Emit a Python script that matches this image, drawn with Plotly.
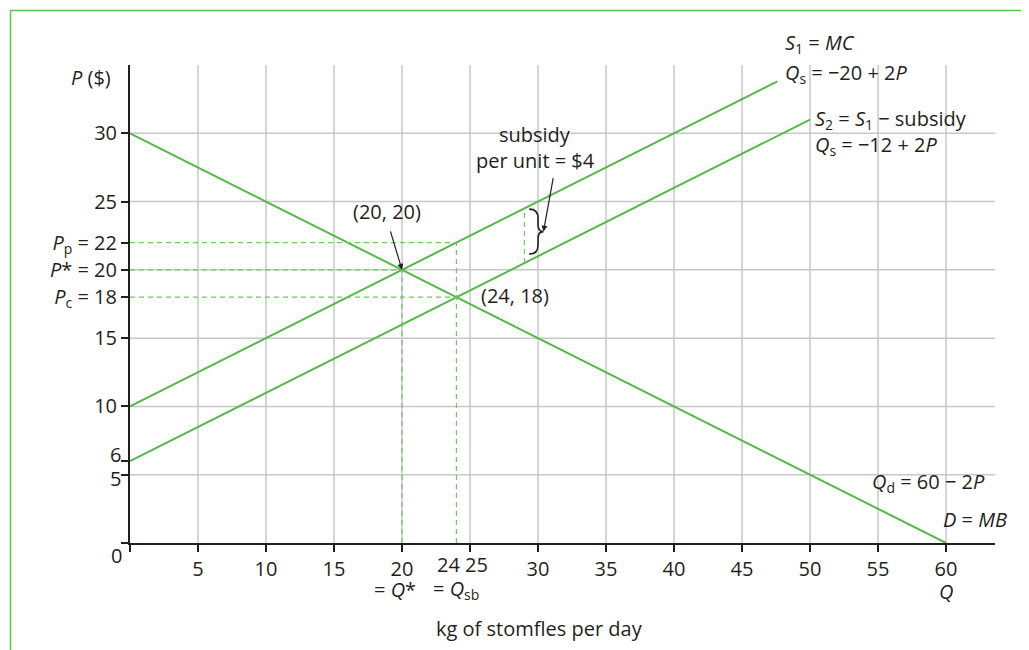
import plotly.graph_objects as go

# ---- data ----
q_demand = [0, 60]
p_demand = [30, 0]
q_s1 = [0, 47.6]
p_s1 = [10, 33.8]
q_s2 = [0, 50]
p_s2 = [6, 31]

# dashed guide lines (q0, p0, q1, p1)
guides = [
    (0, 22, 24, 22),
    (0, 20, 20, 20),
    (0, 18, 24, 18),
    (20, 0, 20, 20),
    (24, 0, 24, 22),
    (29, 20.5, 29, 24.5),
]

x_ticks = [0, 5, 10, 15, 20, 25, 30, 35, 40, 45, 50, 55, 60]
x_ticktext = ["", "5", "10", "15", "20", "", "30", "35", "40", "45", "50", "55", "60"]
y_ticks = [0, 5, 6, 10, 15, 18, 20, 22, 25, 30]
y_ticktext = ["", "", "", "10", "15", "<i>P</i><sub>c</sub> = 18", "<i>P</i>* = 20",
              "<i>P</i><sub>p</sub> = 22", "25", "30"]
x_grid = [5, 10, 15, 20, 25, 30, 35, 40, 45, 50, 55, 60]
y_grid = [5, 10, 15, 20, 25, 30]

GREEN = "#55b848"
DASH_GREEN = "#6cc95c"
GRID = "#c8c8cc"
INK = "#231f20"
FONT = "'Open Sans', 'Noto Sans', sans-serif"
FS = 20
XMAX, YMAX = 63.6, 35

fig = go.Figure()

shapes = []
for g in x_grid:
    shapes.append(dict(type="line", x0=g, x1=g, y0=0, y1=YMAX, xref="x", yref="y",
                       line=dict(color=GRID, width=1.5), layer="below"))
for g in y_grid:
    shapes.append(dict(type="line", x0=0, x1=XMAX, y0=g, y1=g, xref="x", yref="y",
                       line=dict(color=GRID, width=1.5), layer="below"))
for (a, b, c, d) in guides:
    shapes.append(dict(type="line", x0=a, y0=b, x1=c, y1=d, xref="x", yref="y",
                       line=dict(color=DASH_GREEN, width=1.2, dash="5px,4px")))
# brace
shapes.append(dict(type="path", xref="x", yref="y",
                   path="M 29.35,24.45 Q 30.0,24.45 30.0,23.8 L 30.0,23.3 Q 30.0,22.8 30.4,22.8 "
                        "Q 30.0,22.8 30.0,22.3 L 30.0,21.8 Q 30.0,21.15 29.35,21.15",
                   line=dict(color=INK, width=1.6)))
# outer frame
shapes.append(dict(type="rect", xref="paper", yref="paper",
                   x0=(10.5 - 130) / 865, x1=(1045 - 130) / 865,
                   y0=(543 - 665) / 478, y1=(543 - 10.5) / 478,
                   line=dict(color="#5cc250", width=1.5)))

for q, p in [(q_demand, p_demand), (q_s1, p_s1), (q_s2, p_s2)]:
    fig.add_trace(go.Scatter(x=q, y=p, mode="lines", line=dict(color=GREEN, width=2),
                             showlegend=False, hoverinfo="skip", cliponaxis=False))


def txt(x, y, t, xa="center", ya="middle", size=FS):
    # place in paper coordinates so labels outside the axis range stay visible
    return dict(x=x / XMAX, y=y / YMAX, text=t, xref="paper", yref="paper", showarrow=False,
                xanchor=xa, yanchor=ya, font=dict(size=size, color=INK, family=FONT))


ann = [
    txt(-1.25, 34.1, "<i>P</i> ($)", xa="right"),
    txt(-0.96, -0.9, "0"),
    txt(-0.5, 6.45, "6", xa="right"),
    txt(-0.5, 4.7, "5", xa="right"),
    txt(23.4, -1.55, "24"),
    txt(25.5, -1.55, "25"),
    txt(19.5, -3.4, "= <i>Q</i>*"),
    txt(24.0, -3.4, "= <i>Q</i><sub>sb</sub>"),
    txt(60, -3.55, "<i>Q</i>"),
    txt(30.1, -6.25, "kg of stomfles per day"),
    txt(18.9, 24.3, "(20, 20)"),
    txt(28.3, 18.1, "(24, 18)"),
    txt(29.8, 29.9, "subsidy"),
    txt(29.8, 28.0, "per unit = $4"),
    txt(48.0, 36.6, "<i>S</i><sub>1</sub> = <i>MC</i>", xa="left"),
    txt(48.0, 34.4, "<i>Q</i><sub>s</sub> = \u221220 + 2<i>P</i>", xa="left"),
    txt(50.2, 31.0, "<i>S</i><sub>2</sub> = <i>S</i><sub>1</sub> \u2212 subsidy", xa="left"),
    txt(50.2, 29.1, "<i>Q</i><sub>s</sub> = \u221212 + 2<i>P</i>", xa="left"),
    txt(63.0, 4.45, "<i>Q</i><sub>d</sub> = 60 \u2212 2<i>P</i>", xa="right"),
    txt(64.6, 1.7, "<i>D</i> = <i>MB</i>", xa="right"),
    dict(x=20, y=20, xref="x", yref="y", ax=-12, ay=-40, text="", showarrow=True,
         arrowhead=2, arrowsize=1, arrowwidth=1.2, arrowcolor=INK),
    dict(x=30.4, y=22.8, xref="x", yref="y", ax=10, ay=-55, text="", showarrow=True,
         arrowhead=2, arrowsize=1, arrowwidth=1.2, arrowcolor=INK),
]

fig.update_layout(
    width=1029, height=650,
    margin=dict(l=122, r=42, t=57, b=115, autoexpand=False),
    paper_bgcolor="white", plot_bgcolor="white",
    font=dict(family=FONT, size=FS, color=INK),
    shapes=shapes, annotations=ann, showlegend=False,
    xaxis=dict(range=[0, XMAX], showgrid=False, zeroline=False, showline=True, automargin=False,
               linecolor=INK, linewidth=2, ticks="outside", ticklen=7, tickwidth=2,
               tickcolor=INK, tickvals=x_ticks, ticktext=x_ticktext,
               tickfont=dict(size=FS, color=INK, family=FONT)),
    yaxis=dict(range=[0, YMAX], showgrid=False, zeroline=False, showline=True, automargin=False,
               linecolor=INK, linewidth=2, ticks="outside", ticklen=7, tickwidth=2,
               tickcolor=INK, tickvals=y_ticks, ticktext=y_ticktext,
               tickfont=dict(size=FS, color=INK, family=FONT)),
)

fig.write_html("out.html")
